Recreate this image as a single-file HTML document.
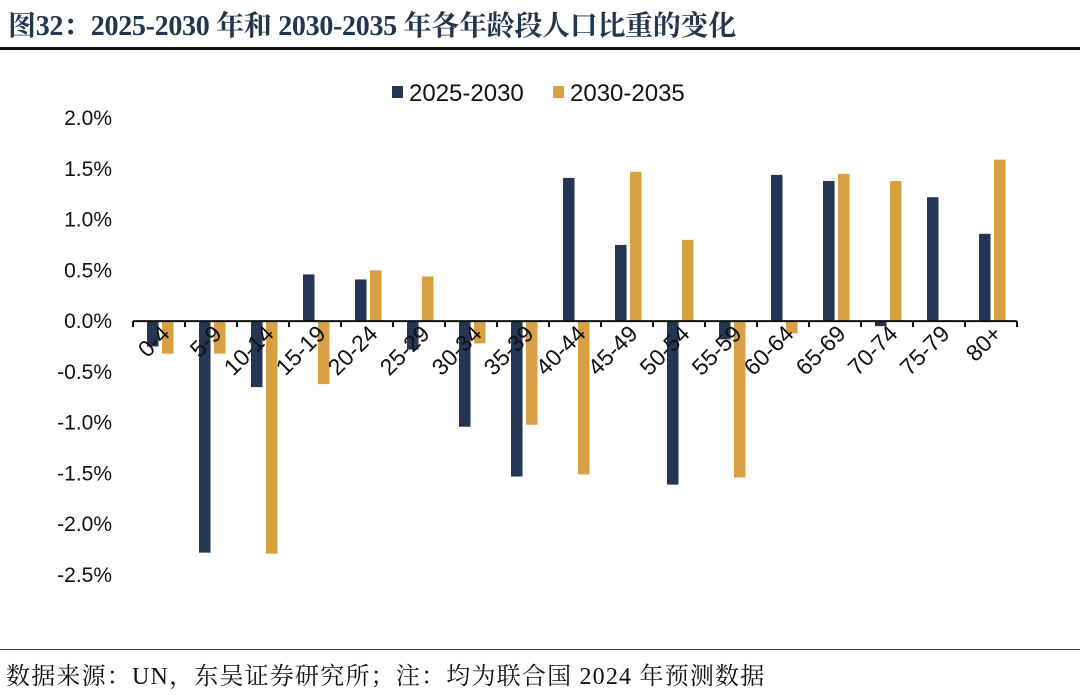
<!DOCTYPE html>
<html><head><meta charset="utf-8"><style>
body{margin:0;width:1080px;height:697px;background:#fff;overflow:hidden;position:relative;font-family:"Liberation Sans","Noto Sans CJK SC",sans-serif}
#title{position:absolute;left:8px;top:4px;font:bold 28px "Liberation Serif","Noto Serif CJK SC",serif;color:#243552;letter-spacing:-0.3px;white-space:nowrap}
#topline{position:absolute;left:0;top:47px;width:1080px;height:3px;background:#111}
#botline{position:absolute;left:0;top:649px;width:1080px;height:1px;background:#444}
#footer{position:absolute;left:6px;top:656px;font:24px "Liberation Serif","Noto Serif CJK SC",serif;color:#111;white-space:nowrap;letter-spacing:1.2px}
svg{position:absolute;left:0;top:0}
</style></head><body>
<div id="title">图32：2025-2030 年和 2030-2035 年各年龄段人口比重的变化</div>
<div id="topline"></div>
<svg id="chart" width="1080" height="697"></svg>
<div id="botline"></div>
<div id="footer">数据来源：UN，东吴证券研究所；注：均为联合国 2024 年预测数据</div>
<script>
const categories=["0-4","5-9","10-14","15-19","20-24","25-29","30-34","35-39","40-44","45-49","50-54","55-59","60-64","65-69","70-74","75-79","80+"];
const series1=[-0.25,-2.28,-0.65,0.46,0.41,-0.28,-1.04,-1.53,1.41,0.75,-1.61,-0.18,1.44,1.38,-0.05,1.22,0.86];
const series2=[-0.32,-0.32,-2.29,-0.62,0.50,0.44,-0.22,-1.02,-1.51,1.47,0.80,-1.54,-0.12,1.45,1.38,0.01,1.59];
const yTicks=[2.0,1.5,1.0,0.5,0.0,-0.5,-1.0,-1.5,-2.0,-2.5];
const seriesNames=["2025-2030","2030-2035"];
const NS="http://www.w3.org/2000/svg";
const svg=document.getElementById('chart');
const x0=133,x1=1017,yTop=118,yBot=575,vMax=2.0,vMin=-2.5;
const yS=v=>yTop+(vMax-v)/(vMax-vMin)*(yBot-yTop);
const slot=(x1-x0)/categories.length;
const xS=i=>x0+i*slot;
function mk(t,a){const e=document.createElementNS(NS,t);for(const k in a)e.setAttribute(k,a[k]);svg.appendChild(e);return e;}
yTicks.forEach(v=>{
 const t=mk('text',{x:112,y:yS(v)+7,'text-anchor':'end','font-size':21,fill:'#111','font-family':'Liberation Sans'});
 t.textContent=v.toFixed(1)+'%';
 
 
});
const colors=['#253554','#d9a043'];
[series1,series2].forEach((s,si)=>{
 s.forEach((v,i)=>{
  const x=xS(i)+14+si*15;
  const y=Math.min(yS(v),yS(0)),h=Math.abs(yS(v)-yS(0));
  const r=mk('rect',{x:x,y:y,width:11.5,height:Math.max(h,1),fill:colors[si]});
  
  
 });
});
const ax=mk('line',{x1:x0,x2:x1,y1:yS(0),y2:yS(0),stroke:'#111','stroke-width':2});


for(let i=0;i<=categories.length;i++){
 const tk=mk('line',{x1:xS(i),x2:xS(i),y1:yS(0),y2:yS(0)+6,stroke:'#111','stroke-width':2});
 
 
}
categories.forEach((c,i)=>{
 const cx=xS(i)+slot/2+12,cy=yS(0)+14;
 const t=mk('text',{x:cx,y:cy,'text-anchor':'end','font-size':23,fill:'#111',transform:`rotate(-45 ${cx} ${cy})`,'font-family':'Liberation Sans'});
 t.textContent=c;
 
 
});
const lx=[392,553];
seriesNames.forEach((n,i)=>{
 const r=mk('rect',{x:lx[i],y:86,width:11,height:12,fill:colors[i]});
 
 
 const t=mk('text',{x:lx[i]+17,y:101,'font-size':24,fill:'#111','font-family':'Liberation Sans'});
 t.textContent=n;
 
 
});
</script>
</body></html>
